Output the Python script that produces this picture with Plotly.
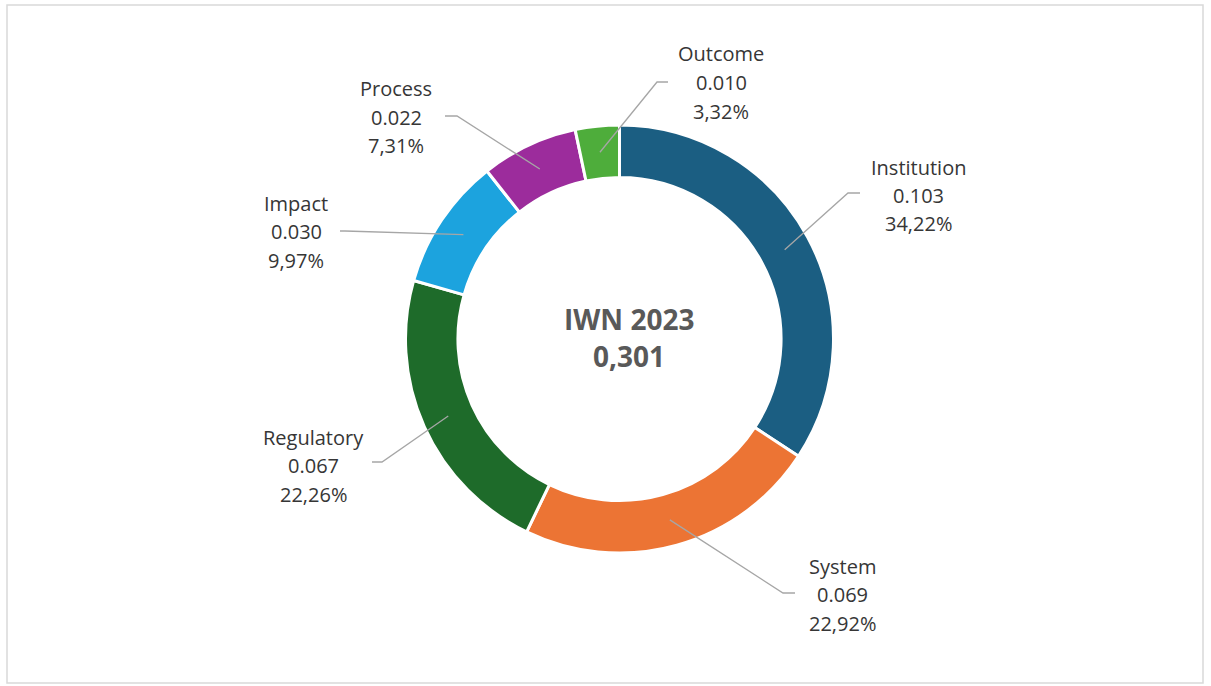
import math
import plotly.graph_objects as go

W, H = 1211, 686

categories = ["Institution", "System", "Regulatory", "Impact", "Process", "Outcome"]
values = [0.103, 0.069, 0.067, 0.030, 0.022, 0.010]
value_labels = ["0.103", "0.069", "0.067", "0.030", "0.022", "0.010"]
percent_labels = ["34,22%", "22,92%", "22,26%", "9,97%", "7,31%", "3,32%"]
colors = ["#1B5E82", "#EC7434", "#1E6B2A", "#1CA3DE", "#9C2C9C", "#4EAD3B"]
center_title = "IWN 2023"
center_value = "0,301"

# layout (pixel positions)
CX, CY, R = 619.5, 339.0, 214.0
HOLE = 0.755
label_pos = {  # text centre x, first-line y
    "Institution": (919, 167),
    "System": (843, 566),
    "Regulatory": (313, 437),
    "Impact": (296, 203),
    "Process": (396, 89),
    "Outcome": (721, 54),
}
elbows = {  # (elbow point, end point)
    "Institution": ((848, 193), (860, 193)),
    "System": ((783, 593), (795, 593)),
    "Regulatory": ((382, 462), (372, 462)),
    "Impact": ((345, 231), (340, 231)),
    "Process": ((457, 116), (445, 116)),
    "Outcome": ((657, 82), (668, 82)),
}
LINE_GAP = 28.5


def px(x):
    return x / W


def py(y):
    return 1 - y / H


fig = go.Figure()
fig.add_trace(go.Pie(
    labels=categories, values=values, sort=False, direction="clockwise",
    rotation=0, hole=HOLE, textinfo="none", hoverinfo="label+value+percent",
    marker=dict(colors=colors, line=dict(color="white", width=3)),
    domain=dict(x=[px(CX - R), px(CX + R)], y=[py(CY + R), py(CY - R)]),
    showlegend=False,
))

annotations = []
shapes = []
total = sum(values)
cum = 0.0
rmid = R * (1 + HOLE) / 2
for cat, v, vl, pl in zip(categories, values, value_labels, percent_labels):
    mid = (cum + v / 2) / total * 2 * math.pi
    cum += v
    sx = CX + rmid * math.sin(mid)
    sy = CY - rmid * math.cos(mid)
    (ex, ey), (fx, fy) = elbows[cat]
    shapes.append(dict(
        type="path", xref="paper", yref="paper",
        path=f"M {px(sx)},{py(sy)} L {px(ex)},{py(ey)} L {px(fx)},{py(fy)}",
        line=dict(color="#A6A6A6", width=1.3),
    ))
    tx, ty = label_pos[cat]
    for i, t in enumerate([cat, vl, pl]):
        annotations.append(dict(
            x=px(tx), y=py(ty + i * LINE_GAP), xref="paper", yref="paper",
            text=t, showarrow=False, xanchor="center", yanchor="middle",
            font=dict(family="Open Sans", size=20, color="#363636"),
        ))

for t, yy in [(center_title, 319), (center_value, 356)]:
    annotations.append(dict(
        x=px(629), y=py(yy), xref="paper", yref="paper", text=f"<b>{t}</b>",
        showarrow=False, xanchor="center", yanchor="middle",
        font=dict(family="Open Sans", size=28, color="#595959"),
    ))

shapes.append(dict(type="rect", xref="paper", yref="paper",
                   x0=px(7), x1=px(1203), y0=py(683), y1=py(5),
                   line=dict(color="#D9D9D9", width=1.5), layer="below"))

fig.update_layout(
    width=W, height=H, margin=dict(l=0, r=0, t=0, b=0),
    paper_bgcolor="white", plot_bgcolor="white",
    annotations=annotations, shapes=shapes,
)
fig.write_html("out.html")
